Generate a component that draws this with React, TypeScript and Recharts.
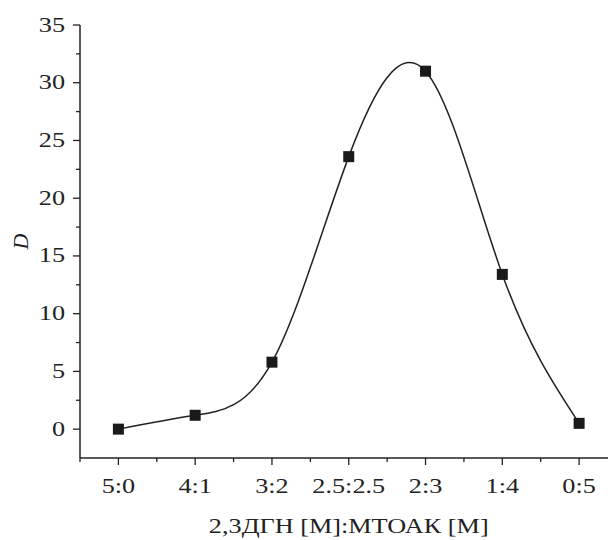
import { LineChart, Line, XAxis, YAxis } from 'recharts';

const categories = ['5:0', '4:1', '3:2', '2.5:2.5', '2:3', '1:4', '0:5'];
const dValues = [0, 1.2, 5.8, 23.6, 31.0, 13.4, 0.5];
const xTicks = [-0.5, 0, 0.5, 1, 1.5, 2, 2.5, 3, 3.5, 4, 4.5, 5, 5.5, 6, 6.5];
const yTicks = [0, 2.5, 5, 7.5, 10, 12.5, 15, 17.5, 20, 22.5, 25, 27.5, 30, 32.5, 35];

const data = categories.map((c, i) => ({ x: i, name: c, D: dValues[i] }));

const INK = '#222';
const textStyle = { fontFamily: 'Liberation Serif', fontSize: 20.5, fill: INK };

// the source figure's lettering is a little wider than normal Times
function WideText({ x, y, anchor, italic, children }: any) {
  return (
    <text
      x={0}
      y={0}
      transform={`translate(${x} ${y}) scale(1.28 1)`}
      textAnchor={anchor}
      style={{ ...textStyle, fontStyle: italic ? 'italic' : 'normal' }}
    >
      {children}
    </text>
  );
}

function XTick({ x, y, payload }: any) {
  const v = payload.value;
  const major = Number.isInteger(v);
  return (
    <g>
      <line x1={x} x2={x} y1={y} y2={y + (major ? 7 : 4)} stroke={INK} strokeWidth={1.3} />
      {major && (
        <WideText x={x} y={y + 35} anchor="middle">
          {categories[v]}
        </WideText>
      )}
    </g>
  );
}

function YTick({ x, y, payload }: any) {
  const v = payload.value;
  const major = v % 5 === 0;
  return (
    <g>
      <line x1={x} x2={x - (major ? 7 : 4)} y1={y} y2={y} stroke={INK} strokeWidth={1.3} />
      {major && (
        <WideText x={x - 15} y={y + 6.5} anchor="end">
          {v}
        </WideText>
      )}
    </g>
  );
}

function SquareDot({ cx, cy }: any) {
  return <rect x={cx - 5.5} y={cy - 5.5} width={11} height={11} fill="#1a1a1a" />;
}

export default function App() {
  return (
    <div style={{ position: 'absolute', left: 0, top: 0, width: 608, height: 540, overflow: 'hidden', background: '#fff' }}>
      <LineChart width={620} height={540} data={data} margin={{ top: 25, right: 2.5, bottom: 0, left: 0 }}>
        <XAxis
          type="number"
          dataKey="x"
          domain={[-0.5, 6.5]}
          ticks={xTicks}
          interval={0}
          allowDataOverflow
          height={82}
          tickSize={0}
          tickMargin={0}
          tickLine={false}
          tick={<XTick />}
          axisLine={{ stroke: INK, strokeWidth: 1.5 }}
          label={{
            content: ({ viewBox }: any) => (
              <WideText x={viewBox.x + viewBox.width / 2} y={viewBox.y + 74.5} anchor="middle">
                2,3ДГН [М]:МТОАК [М]
              </WideText>
            ),
          }}
        />
        <YAxis
          type="number"
          domain={[-2.5, 35]}
          ticks={yTicks}
          interval={0}
          width={80}
          tickSize={0}
          tickMargin={0}
          tickLine={false}
          tick={<YTick />}
          axisLine={{ stroke: INK, strokeWidth: 1.5 }}
          label={{
            content: ({ viewBox }: any) => {
              const cx = 28;
              const cy = viewBox.y + viewBox.height / 2;
              return (
                <text
                  x={cx}
                  y={cy}
                  transform={`rotate(-90 ${cx} ${cy})`}
                  textAnchor="middle"
                  style={{ ...textStyle, fontSize: 22, fontStyle: 'italic' }}
                >
                  D
                </text>
              );
            },
          }}
        />
        <Line
          type="natural"
          dataKey="D"
          stroke={INK}
          strokeWidth={1.5}
          dot={<SquareDot />}
          activeDot={false}
          isAnimationActive={false}
        />
      </LineChart>
    </div>
  );
}
